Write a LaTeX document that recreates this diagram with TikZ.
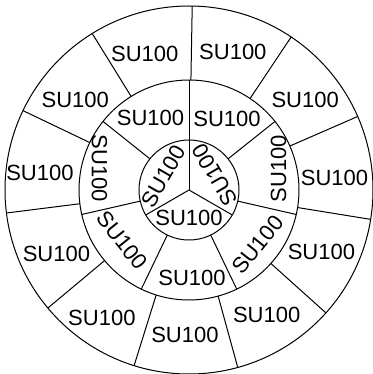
\documentclass[tikz,border=0pt]{standalone}
\usepackage{fontspec}
\setmainfont{Liberation Sans}
\tikzset{
  unit/.style={inner sep=0pt, font=\fontsize{11}{13}\selectfont},
  ring/.style={line width=0.5pt}
}
\begin{document}
\begin{tikzpicture}[x=0.5pt, y=0.5pt]
			\useasboundingbox (-189,-184) rectangle (183,190);
			% circles
			\draw[ring] (0,0) circle[radius=184];
			\draw[ring] (0,0) circle[radius=110];
			\draw[ring] (0,0) circle[radius=50];
			% inner spokes
			\draw[ring] (0,0) -- (90:50);
			\draw[ring] (0,0) -- (210:50);
			\draw[ring] (0,0) -- (330:50);
			% middle spokes
			\draw[ring] (90:50) -- (90:110);
			\draw[ring] (38.57:50) -- (38.57:110);
			\draw[ring] (-12.86:50) -- (-12.86:110);
			\draw[ring] (-64.29:50) -- (-64.29:110);
			\draw[ring] (-115.71:50) -- (-115.71:110);
			\draw[ring] (-167.14:50) -- (-167.14:110);
			\draw[ring] (141.43:50) -- (141.43:110);
			% outer spokes
			\draw[ring] (89:110) -- (89:184);
			\draw[ring] (56.27:110) -- (56.27:184);
			\draw[ring] (23.55:110) -- (23.55:184);
			\draw[ring] (-9.18:110) -- (-9.18:184);
			\draw[ring] (-41.91:110) -- (-41.91:184);
			\draw[ring] (-74.64:110) -- (-74.64:184);
			\draw[ring] (-107.36:110) -- (-107.36:184);
			\draw[ring] (-140.09:110) -- (-140.09:184);
			\draw[ring] (-172.82:110) -- (-172.82:184);
			\draw[ring] (154.45:110) -- (154.45:184);
			\draw[ring] (121.73:110) -- (121.73:184);
			% inner units
			\node[unit, rotate=60] (i1) at (152:29) {SU100};
			\node[unit, rotate=120] (i2) at (30:30) {SU100};
			\node[unit] (i3) at (-90:28) {SU100};
			% middle units
			\node[unit] (m1) at (118:82) {SU100};
			\node[unit] (m2) at (62:81) {SU100};
			\node[unit, rotate=90] (m3) at (13.5:92) {SU100};
			\node[unit, rotate=51.43] (m4) at (-38.6:88) {SU100};
			\node[unit] (m5) at (-88:88) {SU100};
			\node[unit, rotate=-51.43] (m6) at (-143:84) {SU100};
			\node[unit, rotate=-90] (m7) at (166.5:92) {SU100};
			% outer units
			\node[unit] (o1) at (108:143) {SU100};
			\node[unit] (o2) at (72.4:145) {SU100};
			\node[unit] (o3) at (37.8:147) {SU100};
			\node[unit] (o4) at (4.6:146) {SU100};
			\node[unit] (o5) at (-24.9:146) {SU100};
			\node[unit] (o6) at (-58.1:147) {SU100};
			\node[unit] (o7) at (-91.6:145) {SU100};
			\node[unit] (o8) at (-124.2:155) {SU100};
			\node[unit] (o9) at (-154.4:147) {SU100};
			\node[unit] (o10) at (173.6:150) {SU100};
			\node[unit] (o11) at (141.7:145) {SU100};
\end{tikzpicture}
\end{document}
